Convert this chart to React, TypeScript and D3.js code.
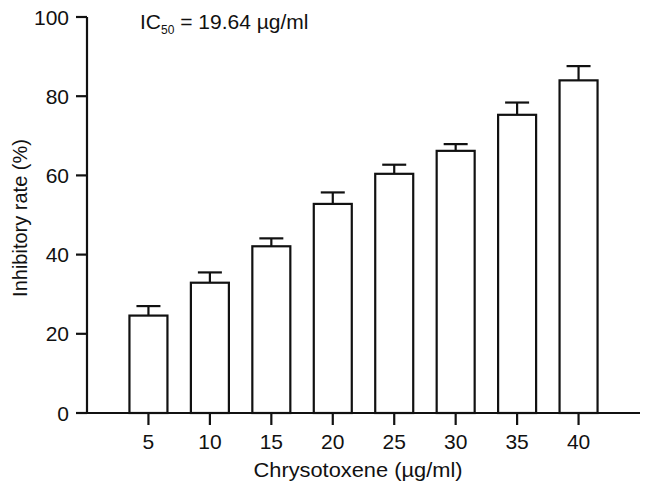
import React from 'react';
import * as d3 from 'd3';

// Data
const doses = [5, 10, 15, 20, 25, 30, 35, 40];
const rates = [24.6, 32.9, 42.1, 52.8, 60.4, 66.2, 75.3, 84.0];
const errors = [2.4, 2.6, 2.0, 2.9, 2.3, 1.7, 3.1, 3.6];
const yTicks = [0, 20, 40, 60, 80, 100];

const App = () => {
    const width = 649;
    const height = 492;
    const margin = { left: 87, right: 9, top: 17, bottom: 79 };

    const x = d3.scaleLinear().domain([0, 45]).range([margin.left, width - margin.right]);
    const y = d3.scaleLinear().domain([0, 100]).range([height - margin.bottom, margin.top]);

    const barW = 38;
    const capW = 24;
    const font = '"Liberation Sans", Arial, sans-serif';
    const stroke = '#111';

    return (
        <svg width={width} height={height} style={{ position: 'absolute', left: 0, top: 0, background: '#fff' }} fontFamily={font}>
            {/* bars */}
            {doses.map((d, i) => {
                const cx = x(d);
                const top = y(rates[i]);
                const errTop = y(rates[i] + errors[i]);
                return (
                    <g key={d}>
                        <line x1={cx} x2={cx} y1={top} y2={errTop} stroke={stroke} strokeWidth={2.2} />
                        <line x1={cx - capW / 2} x2={cx + capW / 2} y1={errTop} y2={errTop} stroke={stroke} strokeWidth={2.2} />
                        <rect x={cx - barW / 2} y={top} width={barW} height={y(0) - top} fill="#fff" stroke={stroke} strokeWidth={2.2} />
                    </g>
                );
            })}

            {/* y axis */}
            <line x1={x(0)} x2={x(0)} y1={y(100)} y2={y(0)} stroke={stroke} strokeWidth={2.2} />
            {yTicks.map(t => (
                <g key={t}>
                    <line x1={x(0) - 11} x2={x(0)} y1={y(t)} y2={y(t)} stroke={stroke} strokeWidth={2.2} />
                    <text x={x(0) - 18} y={y(t)} dy="0.36em" textAnchor="end" fontSize={21} fill="#111">{t}</text>
                </g>
            ))}

            {/* x axis */}
            <line x1={x(0) - 11} x2={x(45)} y1={y(0)} y2={y(0)} stroke={stroke} strokeWidth={2.2} />
            {doses.map(d => (
                <g key={d}>
                    <line x1={x(d)} x2={x(d)} y1={y(0)} y2={y(0) + 12} stroke={stroke} strokeWidth={2.2} />
                    <text x={x(d)} y={y(0) + 36} textAnchor="middle" fontSize={21} fill="#111">{d}</text>
                </g>
            ))}

            {/* axis titles */}
            <text x={358} y={y(0) + 64} textAnchor="middle" fontSize={21} fill="#111" textLength={209} lengthAdjust="spacingAndGlyphs">
                Chrysotoxene (µg/ml)
            </text>
            <text transform={`translate(27,218) rotate(-90)`} textAnchor="middle" fontSize={20} fill="#111">
                Inhibitory rate (%)
            </text>

            {/* IC50 annotation */}
            <text x={140} y={29} fontSize={21} fill="#111">
                IC<tspan fontSize={12} dy={5}>50</tspan><tspan dy={-5}> = 19.64 µg/ml</tspan>
            </text>
        </svg>
    );
};

export default App;
